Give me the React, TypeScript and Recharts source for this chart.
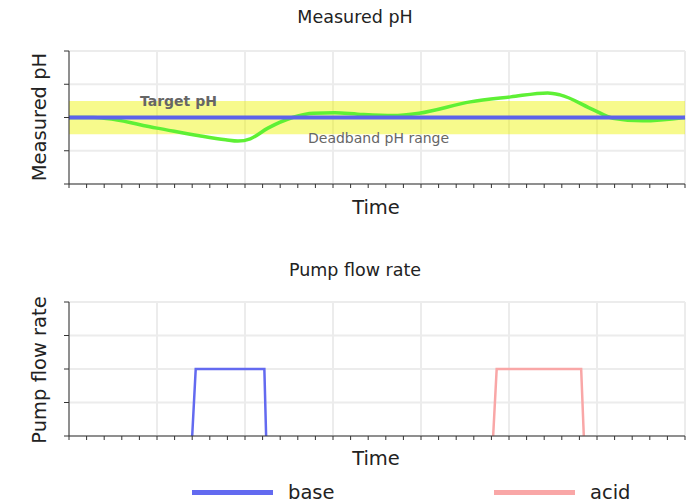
import React from 'react';
import {
  LineChart,
  Line,
  XAxis,
  YAxis,
  CartesianGrid,
  ReferenceLine,
  ReferenceArea
} from 'recharts';

// time axis: 35 minor steps, grid every 5
const timeTicks = Array.from({ length: 36 }, (_, i) => i);
const timeGrid = [0, 5, 10, 15, 20, 25, 30, 35];

// measured pH (green curve)
const phTime = [0, 1.4, 5, 7.4, 8.9, 9.6, 10.3, 11.3, 12.7, 13.9, 15.1, 16.4, 18.4, 19.9, 22.8, 25.1, 27.2, 27.9, 29.8, 30.9, 32.6, 35];
const phValue = [7.0, 7.0, 6.68, 6.45, 6.33, 6.29, 6.36, 6.68, 7.0, 7.13, 7.14, 7.1, 7.06, 7.13, 7.47, 7.62, 7.74, 7.68, 7.23, 6.98, 6.9, 7.0];
const phTicks = [5, 6, 7, 8, 9];
const targetPh = 7;
const deadband = [6.5, 7.5];

// pump flow rate (only the pulses are visible above the axis)
const baseTime = [7.0, 7.2, 11.1, 11.2];
const baseFlow = [0, 2, 2, 0];
const acidTime = [24.1, 24.3, 29.1, 29.25];
const acidFlow = [0, 2, 2, 0];
const flowTicks = [0, 1, 2, 3, 4];

const series = [
  { name: 'base', color: '#636af0' },
  { name: 'acid', color: '#f9a7a7' }
];

const phData = phTime.map((t, i) => ({ t, ph: phValue[i] }));
const baseData = baseTime.map((t, i) => ({ t, v: baseFlow[i] }));
const acidData = acidTime.map((t, i) => ({ t, v: acidFlow[i] }));

const FONT = '"DejaVu Sans", Inter, sans-serif';
const axisColor = '#333';
const gridColor = '#ececec';

const text = (style: React.CSSProperties): React.CSSProperties => ({
  position: 'absolute',
  fontFamily: FONT,
  color: '#222',
  whiteSpace: 'nowrap',
  lineHeight: 1,
  ...style
});

const rotated = (label: string, cy: number) => (
  <div
    style={text({
      left: 40,
      top: cy,
      fontSize: 19.5,
      transform: 'translate(-50%, -50%) rotate(-90deg)'
    })}
  >
    {label}
  </div>
);

const xAxisProps = {
  dataKey: 't',
  type: 'number' as const,
  domain: [0, 35],
  ticks: timeTicks,
  interval: 0,
  tickFormatter: () => '',
  tickSize: 4,
  stroke: axisColor,
  height: 30,
  allowDuplicatedCategory: false
};

export default function App() {
  return (
    <div style={{ position: 'absolute', left: 0, top: 0, width: 693, height: 504, background: '#fff' }}>
      <div style={text({ left: 355, top: 9, fontSize: 17.5, transform: 'translateX(-50%)' })}>Measured pH</div>
      <div style={{ position: 'absolute', left: 0, top: 0 }}>
        <LineChart width={693} height={230} data={phData} margin={{ top: 51, right: 8, bottom: 16, left: 9 }}>
          <CartesianGrid stroke={gridColor} strokeWidth={2} verticalValues={timeGrid} horizontalValues={phTicks} />
          <XAxis {...xAxisProps} />
          <YAxis
            type="number"
            domain={[5, 9]}
            ticks={phTicks}
            width={60}
            tickFormatter={() => ''}
            tickSize={5}
            stroke={axisColor}
          />
          <ReferenceArea y1={deadband[0]} y2={deadband[1]} fill="#eef500" fillOpacity={0.45} stroke="none" />
          <Line
            dataKey="ph"
            type="monotone"
            stroke="#5ef035"
            strokeWidth={3.5}
            dot={false}
            isAnimationActive={false}
          />
          <ReferenceLine y={targetPh} stroke="#5d63ea" strokeWidth={4} />
        </LineChart>
      </div>
      <div style={text({ left: 140, top: 94, fontSize: 14, fontWeight: 700, color: '#666' })}>Target pH</div>
      <div style={text({ left: 308, top: 131, fontSize: 14, color: '#666' })}>Deadband pH range</div>
      {rotated('Measured pH', 117)}
      <div style={text({ left: 376, top: 198, fontSize: 19.5, transform: 'translateX(-50%)' })}>Time</div>

      <div style={text({ left: 355, top: 262, fontSize: 17.5, transform: 'translateX(-50%)' })}>Pump flow rate</div>
      <div style={{ position: 'absolute', left: 0, top: 250 }}>
        <LineChart width={693} height={220} margin={{ top: 52, right: 8, bottom: 4, left: 9 }}>
          <CartesianGrid stroke={gridColor} strokeWidth={2} verticalValues={timeGrid} horizontalValues={flowTicks} />
          <XAxis {...xAxisProps} />
          <YAxis
            type="number"
            domain={[0, 4]}
            ticks={flowTicks}
            width={60}
            tickFormatter={() => ''}
            tickSize={5}
            stroke={axisColor}
          />
          <Line
            data={baseData}
            dataKey="v"
            type="linear"
            stroke={series[0].color}
            strokeWidth={2.5}
            dot={false}
            isAnimationActive={false}
          />
          <Line
            data={acidData}
            dataKey="v"
            type="linear"
            stroke={series[1].color}
            strokeWidth={2.5}
            dot={false}
            isAnimationActive={false}
          />
        </LineChart>
      </div>
      {rotated('Pump flow rate', 370)}
      <div style={text({ left: 376, top: 449, fontSize: 19.5, transform: 'translateX(-50%)' })}>Time</div>

      {series.map((s, i) => (
        <div key={s.name} style={text({ left: i === 0 ? 192 : 494, top: 483, fontSize: 19.5, display: 'flex', alignItems: 'center' })}>
          <span style={{ display: 'inline-block', width: 81, height: 5, background: s.color, marginRight: 15 }} />
          {s.name}
        </div>
      ))}
    </div>
  );
}
